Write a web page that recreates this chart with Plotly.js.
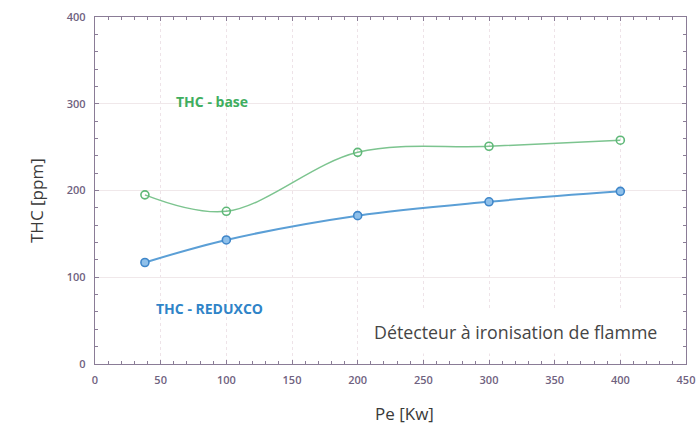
<!DOCTYPE html>
<html>
<head>
<meta charset="utf-8">
<script src="https://cdn.plot.ly/plotly-3.0.1.min.js"></script>
<style>
  html, body { margin: 0; padding: 0; background: #fff; }
  #chart { width: 699px; height: 427px; }
</style>
</head>
<body>
<div id="chart"></div>
<script>
// Load (kW) and total hydrocarbons (ppm) for both configurations
const power = [38, 100, 200, 300, 400];
const thcBase = [195, 176, 244, 251, 258];
const thcReduxco = [117, 143, 171, 187, 199];

const xTicks = [0, 50, 100, 150, 200, 250, 300, 350, 400, 450];
const yTicks = [0, 100, 200, 300, 400];

const labelBase = 'THC - base';
const labelReduxco = 'THC - REDUXCO';
const noteText = 'Détecteur à ironisation de flamme';
const xTitle = 'Pe [Kw]';
const yTitle = 'THC [ppm]';

const green = '#7cc48f';
const blue = '#5b9fd6';
const axisCol = '#8a7c96';
const family = 'Open Sans, Noto Sans, sans-serif';
const tickFont = { family: family, size: 11, color: '#6f6280', weight: 600 };

const traces = [
  {
    x: power, y: thcBase, type: 'scatter', mode: 'lines+markers',
    line: { shape: 'spline', smoothing: 1, color: green, width: 1.5 },
    marker: { symbol: 'circle-open', size: 8, color: '#5fb878', line: { width: 1.6 } },
    hoverinfo: 'x+y', showlegend: false
  },
  {
    x: power, y: thcReduxco, type: 'scatter', mode: 'lines+markers',
    line: { shape: 'spline', smoothing: 1, color: blue, width: 2 },
    marker: { symbol: 'circle', size: 8, color: '#8fc0ea', line: { width: 1.6, color: '#3f86c9' } },
    hoverinfo: 'x+y', showlegend: false
  }
];

const layout = {
  width: 699, height: 427,
  margin: { l: 95, r: 13, t: 17, b: 63 },
  paper_bgcolor: '#ffffff', plot_bgcolor: '#ffffff',
  font: { family: family },
  xaxis: {
    range: [0, 450], tickmode: 'array', tickvals: xTicks, ticktext: xTicks.map(String),
    ticks: 'inside', ticklen: 4, tickcolor: axisCol, mirror: 'ticks',
    showline: true, linecolor: axisCol, linewidth: 1.2,
    showgrid: true, gridcolor: '#eee3e8', griddash: 'dot', gridwidth: 1,
    zeroline: false, tickfont: tickFont, ticklabelstandoff: 6,
    minor: { dtick: 10, ticks: 'inside', ticklen: 3, tickcolor: axisCol, showgrid: false }
  },
  yaxis: {
    range: [0, 400], tickmode: 'array', tickvals: yTicks, ticktext: yTicks.map(String),
    ticks: 'inside', ticklen: 4, tickcolor: axisCol, mirror: 'ticks',
    showline: true, linecolor: axisCol, linewidth: 1.2,
    showgrid: true, gridcolor: '#f0e8ea', gridwidth: 1,
    zeroline: false, tickfont: tickFont, ticklabelstandoff: 6,
    minor: { dtick: 20, ticks: 'inside', ticklen: 3, tickcolor: axisCol, showgrid: false }
  },
  annotations: [
    {
      x: 89, y: 303, xref: 'x', yref: 'y', text: labelBase, showarrow: false,
      font: { size: 14, color: '#3fae5f', family: family, weight: 'bold' }
    },
    {
      x: 87, y: 64, xref: 'x', yref: 'y', text: labelReduxco, showarrow: false,
      font: { size: 14, color: '#2f84c8', family: family, weight: 'bold' }
    },
    {
      x: 320, y: 37, xref: 'x', yref: 'y', text: noteText, showarrow: false,
      bgcolor: '#ffffff', borderpad: 9,
      font: { size: 17.8, color: '#454545', family: family }
    },
    {
      x: 0.5245, y: -0.142, xref: 'paper', yref: 'paper', text: xTitle, showarrow: false,
      xanchor: 'center', yanchor: 'middle', borderpad: 0,
      font: { size: 17, color: '#3a3a3a', family: family }
    },
    {
      x: -0.098, y: 0.47, xref: 'paper', yref: 'paper', text: yTitle, showarrow: false,
      xanchor: 'center', yanchor: 'middle', textangle: -90,
      font: { size: 17, color: '#3a3a3a', family: family }
    }
  ]
};

Plotly.newPlot('chart', traces, layout, { displayModeBar: false, staticPlot: true });
</script>
</body>
</html>
